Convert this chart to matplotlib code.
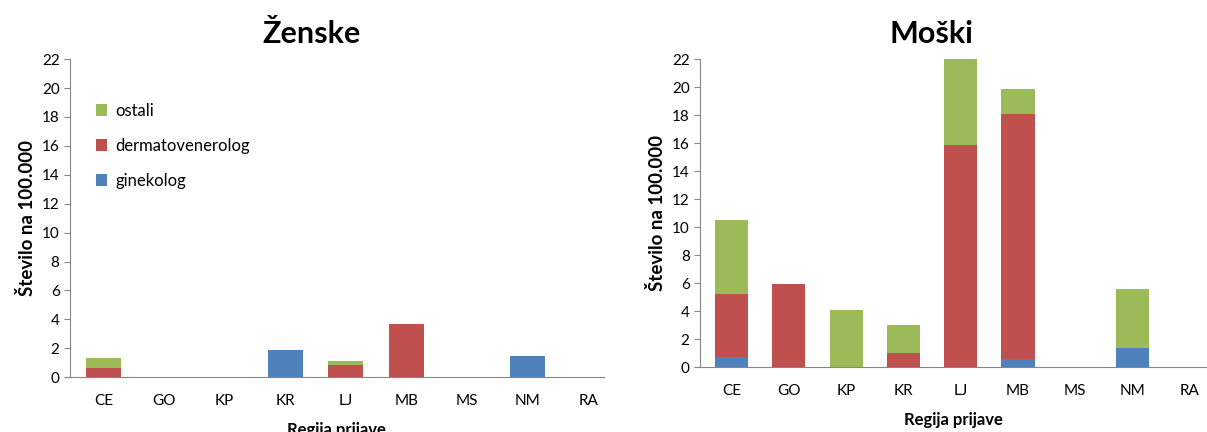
import numpy as np
import matplotlib.pyplot as plt

plt.rcParams['font.family'] = ['Lato', 'DejaVu Sans']

regije = ['CE', 'GO', 'KP', 'KR', 'LJ', 'MB', 'MS', 'NM', 'RA']

# Ženske
z_ginekolog = [0, 0, 0, 1.9, 0, 0, 0, 1.45, 0]
z_derm = [0.65, 0, 0, 0, 0.85, 3.7, 0, 0, 0]
z_ostali = [0.65, 0, 0, 0, 0.3, 0, 0, 0, 0]

# Moški
m_ginekolog = [0.7, 0, 0, 0, 0, 0.6, 0, 1.4, 0]
m_derm = [4.5, 5.95, 0, 1.0, 15.85, 17.45, 0, 0, 0]
m_ostali = [5.3, 0, 4.05, 2.0, 6.15, 1.85, 0, 4.15, 0]

c_gin = '#4F81BD'
c_derm = '#C0504D'
c_ost = '#9BBB59'

fig = plt.figure(figsize=(12.07, 4.32), dpi=100)
ax1 = fig.add_axes([0.058, 0.127, 0.442, 0.736])
ax2 = fig.add_axes([0.580, 0.150, 0.420, 0.713])


def narisi(ax, gin, derm, ost, naslov, xlim_r, tx):
    x = np.arange(len(regije))
    gin = np.array(gin)
    derm = np.array(derm)
    ost = np.array(ost)
    w = 0.58
    b1 = ax.bar(x, gin, w, color=c_gin, label='ginekolog')
    b2 = ax.bar(x, derm, w, bottom=gin, color=c_derm, label='dermatovenerolog')
    b3 = ax.bar(x, ost, w, bottom=gin + derm, color=c_ost, label='ostali')
    ax.set_ylim(0, 22)
    ax.set_yticks(range(0, 23, 2))
    ax.set_xlim(-0.55, xlim_r)
    ax.set_xticks(x)
    ax.set_xticklabels(regije)
    for s in ['top', 'right']:
        ax.spines[s].set_visible(False)
    for s in ['left', 'bottom']:
        ax.spines[s].set_color('#868686')
    ax.tick_params(axis='x', length=0, pad=12, labelsize=11)
    ax.tick_params(axis='y', length=4, color='#868686', labelsize=11)
    ax.set_title(naslov, fontsize=22, fontweight='bold', pad=12, x=tx)
    ax.set_ylabel('Število na 100.000', fontsize=13.5, fontweight='bold')
    ax.set_xlabel('Regija prijave', fontsize=12, fontweight='bold', labelpad=10)
    return b1, b2, b3


b1, b2, b3 = narisi(ax1, z_ginekolog, z_derm, z_ostali, 'Ženske', 8.25, 0.452)
narisi(ax2, m_ginekolog, m_derm, m_ostali, 'Moški', 8.3, 0.457)

ax1.legend([b3, b2, b1], ['ostali', 'dermatovenerolog', 'ginekolog'],
           loc='upper left', bbox_to_anchor=(0.02, 0.91), frameon=False,
           fontsize=12, handlelength=0.7, handleheight=0.7,
           labelspacing=1.15, handletextpad=0.5)

fig.savefig('out.png', dpi=100)
